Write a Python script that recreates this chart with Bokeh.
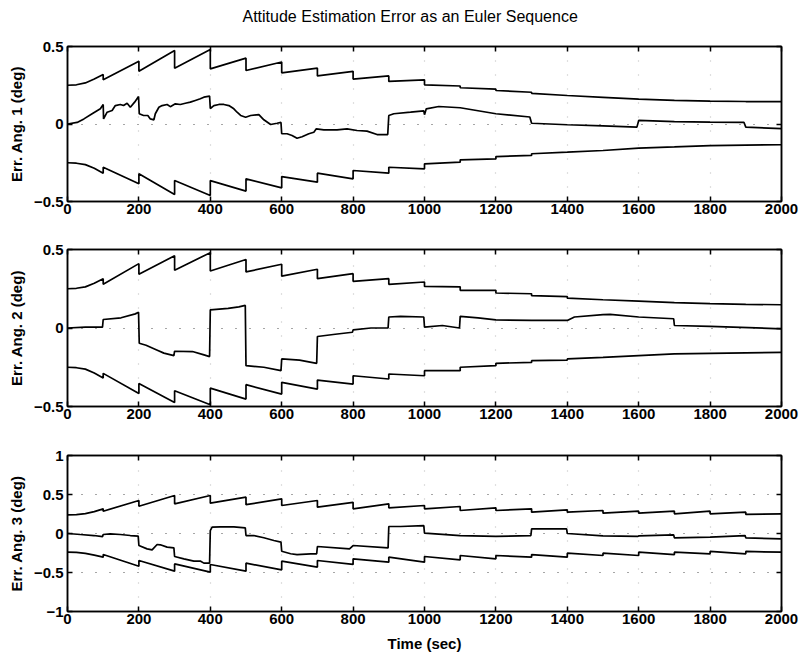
from bokeh.plotting import figure
from bokeh.layouts import column
from bokeh.models import Range1d, LinearAxis, FixedTicker, CustomJSTickFormatter
from bokeh.embed import file_html
from bokeh.resources import INLINE

FONT = "Liberation Sans"
TITLE = "Attitude Estimation Error as an Euler Sequence"
X_LABEL = "Time (sec)"
Y_LABELS = ["Err. Ang. 1 (deg)", "Err. Ang. 2 (deg)", "Err. Ang. 3 (deg)"]
X_TICKS = [0, 200, 400, 600, 800, 1000, 1200, 1400, 1600, 1800, 2000]
Y_TICKS_12 = [-0.5, 0, 0.5]
Y_TICKS_3 = [-1, -0.5, 0, 0.5, 1]

# ---------------- Panel 1 ----------------
p1_bound_t = [0, 25, 50, 75, 100,
              100, 200, 200, 300, 300, 400, 400, 500, 500, 600, 600, 700, 700, 800,
              800, 900, 900, 1000, 1000, 1100, 1100, 1200, 1200, 1300,
              1300, 1400, 1500, 1600, 1700, 1800, 1900, 2000]
p1_upper = [0.25, 0.253, 0.265, 0.29, 0.32,
            0.285, 0.405, 0.34, 0.474, 0.36, 0.48, 0.356, 0.425, 0.345, 0.40, 0.33, 0.36, 0.31, 0.34,
            0.29, 0.31, 0.275, 0.285, 0.253, 0.245, 0.234, 0.225, 0.216, 0.205,
            0.198, 0.184, 0.172, 0.16, 0.152, 0.147, 0.145, 0.145]
p1_lower = [-0.25, -0.253, -0.262, -0.285, -0.317,
            -0.279, -0.386, -0.321, -0.455, -0.365, -0.461, -0.365, -0.433, -0.354, -0.412, -0.339, -0.375, -0.317, -0.354,
            -0.30, -0.317, -0.279, -0.289, -0.257, -0.246, -0.231, -0.225, -0.21, -0.203,
            -0.192, -0.182, -0.171, -0.156, -0.148, -0.139, -0.136, -0.134]
p1_err_t = [0, 27, 46, 69, 92, 100, 101, 111, 125, 134, 148, 157, 167, 176, 188, 199, 201, 213, 225, 232,
            242, 246, 256, 265, 279, 288, 302, 316, 330, 344, 358, 372, 382, 398, 400, 410, 424, 438, 452, 466,
            475, 485, 499, 513, 536, 550, 569, 587, 598, 600, 615, 629, 643, 657, 676, 690, 697, 718, 755, 783,
            811, 839, 867, 897, 900, 914, 961, 998, 1000, 1005, 1040, 1100, 1200, 1295, 1300, 1400, 1500, 1595,
            1600, 1700, 1800, 1895, 1900, 2000]
p1_err = [0, 0.01, 0.033, 0.066, 0.098, 0.126, 0.033, 0.076, 0.087, 0.119, 0.126, 0.119, 0.134, 0.108, 0.141, 0.177, 0.066, 0.055, 0.055, 0.033,
          0.027, 0.066, 0.108, 0.119, 0.126, 0.112, 0.13, 0.126, 0.134, 0.141, 0.152, 0.163, 0.173, 0.18, 0.10, 0.119, 0.126, 0.126, 0.119, 0.098,
          0.076, 0.055, 0.044, 0.055, 0.06, 0.027, -0.003, 0.005, 0.01, -0.063, -0.063, -0.074, -0.092, -0.082, -0.063, -0.053, -0.031, -0.038, -0.038, -0.031,
          -0.042, -0.046, -0.068, -0.068, 0.055, 0.066, 0.076, 0.085, 0.06, 0.098, 0.113, 0.105, 0.066, 0.045, 0.005, -0.005, -0.012, -0.02,
          0.023, 0.015, 0.012, 0.01, -0.02, -0.03]

# ---------------- Panel 2 ----------------
p2_bound_t = [0, 25, 50, 75, 100,
              100, 200, 200, 300, 300, 400, 400, 500, 500, 600, 600, 700, 700, 800,
              800, 900, 900, 1000, 1000, 1100, 1100, 1200, 1200, 1300, 1300, 1400,
              1400, 1500, 1600, 1700, 1800, 1900, 2000]
p2_upper = [0.25, 0.253, 0.262, 0.285, 0.314,
            0.278, 0.41, 0.342, 0.46, 0.368, 0.48, 0.363, 0.436, 0.357, 0.406, 0.33, 0.374, 0.314, 0.346,
            0.297, 0.314, 0.278, 0.293, 0.265, 0.262, 0.24, 0.24, 0.223, 0.218, 0.206, 0.20,
            0.19, 0.18, 0.171, 0.161, 0.155, 0.151, 0.148]
p2_lower = [-0.25, -0.253, -0.262, -0.287, -0.319,
            -0.289, -0.417, -0.353, -0.474, -0.40, -0.489, -0.383, -0.453, -0.361, -0.421, -0.346, -0.389, -0.332, -0.357,
            -0.304, -0.325, -0.293, -0.304, -0.272, -0.272, -0.25, -0.24, -0.225, -0.219, -0.208, -0.204,
            -0.197, -0.187, -0.176, -0.165, -0.161, -0.158, -0.155]
p2_err_t = [0, 50, 98, 100, 150, 190, 199, 201, 220, 250, 270, 298, 300, 350, 380, 398, 400, 450, 480, 498,
            500, 550, 598, 600, 650, 698, 700, 750, 798, 800, 850, 898, 900, 933, 998, 1000, 1050, 1098, 1100, 1150,
            1200, 1300, 1400, 1420, 1500, 1520, 1600, 1698, 1700, 1800, 2000]
p2_err = [0, 0.005, 0.005, 0.054, 0.065, 0.09, 0.10, -0.097, -0.11, -0.14, -0.16, -0.176, -0.148, -0.15, -0.17, -0.182, 0.116, 0.125, 0.135, 0.144,
          -0.24, -0.25, -0.272, -0.197, -0.205, -0.225, -0.054, -0.04, -0.027, -0.012, 0.0, 0.0, 0.07, 0.074, 0.07, 0.005, 0.016, 0.0, 0.074, 0.065,
          0.052, 0.048, 0.048, 0.07, 0.085, 0.087, 0.07, 0.059, 0.016, 0.01, -0.005]

# ---------------- Panel 3 ----------------
p3_bound_t = [0, 25, 50, 75, 100,
              100, 200, 200, 300, 300, 400, 400, 500, 500, 600, 600, 700, 700, 800,
              800, 900, 900, 1000, 1000, 1100, 1100, 1200, 1200, 1300, 1300, 1400,
              1400, 1500, 1500, 1600, 1600, 1700, 1700, 1800, 1800, 1900, 1900, 2000]
p3_upper = [0.24, 0.243, 0.255, 0.28, 0.316,
            0.286, 0.423, 0.35, 0.487, 0.38, 0.487, 0.389, 0.466, 0.37, 0.444, 0.359, 0.423, 0.338, 0.40,
            0.316, 0.38, 0.329, 0.359, 0.316, 0.346, 0.295, 0.329, 0.295, 0.316, 0.274, 0.303,
            0.274, 0.295, 0.26, 0.286, 0.26, 0.286, 0.252, 0.286, 0.252, 0.274, 0.244, 0.252]
p3_lower = [-0.24, -0.243, -0.255, -0.278, -0.303,
            -0.27, -0.42, -0.346, -0.483, -0.39, -0.496, -0.397, -0.483, -0.38, -0.466, -0.355, -0.43, -0.346, -0.397,
            -0.325, -0.368, -0.303, -0.368, -0.295, -0.338, -0.282, -0.325, -0.282, -0.303, -0.27, -0.303,
            -0.252, -0.282, -0.252, -0.282, -0.24, -0.27, -0.24, -0.26, -0.23, -0.26, -0.23, -0.24]
p3_err_t = [0, 36, 74, 98, 100, 120, 148, 176, 198, 200, 223, 237, 251, 260, 279, 298, 300, 326, 354, 373,
            382, 398, 400, 405, 428, 466, 498, 500, 522, 550, 578, 598, 600, 625, 643, 681, 698, 700, 790, 800,
            898, 900, 933, 998, 1000, 1100, 1200, 1298, 1300, 1398, 1400, 1500, 1598, 1600, 1698, 1700, 1800, 1898, 1900, 2000]
p3_err = [0, -0.013, -0.026, -0.04, -0.013, -0.004, -0.013, -0.026, -0.034, -0.154, -0.197, -0.21, -0.141, -0.145, -0.175, -0.184, -0.295, -0.325, -0.355, -0.355,
          -0.38, -0.38, 0.038, 0.081, 0.085, 0.085, 0.073, -0.026, -0.026, -0.055, -0.09, -0.11, -0.227, -0.26, -0.27, -0.26, -0.26, -0.167, -0.197, -0.154,
          -0.184, 0.09, 0.09, 0.10, 0.004, -0.026, -0.038, -0.026, 0.06, 0.06, 0.0, -0.03, -0.038, -0.03, -0.017, -0.056, -0.047, -0.026, -0.056, -0.068]


def fmt(v):
    if v == 0:
        return "0"
    s = ("%g" % abs(v))
    return ("\u2212" + s) if v < 0 else s


def make_panel(height, top, bottom, yr, yticks, ylabel, series, title=None, xlabel=None):
    p = figure(width=801, height=height, output_backend="svg", toolbar_location=None,
               x_range=Range1d(0, 2000), y_range=Range1d(*yr),
               min_border_left=67, min_border_right=20, min_border_top=top, min_border_bottom=bottom,
               background_fill_color="white", border_fill_color="white")
    p.outline_line_color = "black"
    p.outline_line_width = 1.5

    for ax in (p.xaxis[0], p.yaxis[0]):
        ax.major_tick_in = 5
        ax.major_tick_out = 0
        ax.minor_tick_line_color = None
        ax.axis_line_color = "black"
        ax.axis_line_width = 1.5
        ax.major_tick_line_width = 1.5
        ax.major_label_text_font = FONT
        ax.major_label_text_font_size = "15px"
        ax.major_label_text_font_style = "bold"
        ax.major_label_text_color = "black"
        ax.axis_label_text_font = FONT
        ax.axis_label_text_font_size = "15px"
        ax.axis_label_text_font_style = "bold"
        ax.axis_label_text_color = "black"
    p.xaxis[0].ticker = FixedTicker(ticks=X_TICKS)
    p.yaxis[0].ticker = FixedTicker(ticks=yticks)
    p.yaxis[0].major_label_overrides = {t: fmt(t) for t in yticks}
    p.xaxis[0].major_label_standoff = 2
    p.yaxis[0].major_label_standoff = 4
    p.yaxis[0].axis_label = ylabel
    p.yaxis[0].axis_label_standoff = 6
    if xlabel:
        p.xaxis[0].axis_label = xlabel
        p.xaxis[0].axis_label_standoff = 8

    blank = CustomJSTickFormatter(code="return ''")
    top_ax = LinearAxis(ticker=FixedTicker(ticks=X_TICKS), formatter=blank,
                        major_tick_in=5, major_tick_out=0, minor_tick_line_color=None,
                        major_label_text_font_size="1px", major_label_standoff=0,
                        axis_line_width=1.5, major_tick_line_width=1.5)
    right_ax = LinearAxis(ticker=FixedTicker(ticks=yticks), formatter=blank,
                          major_tick_in=5, major_tick_out=0, minor_tick_line_color=None,
                          major_label_text_font_size="1px", major_label_standoff=0,
                          axis_line_width=1.5, major_tick_line_width=1.5)
    p.add_layout(top_ax, "above")
    p.add_layout(right_ax, "right")

    for g in (p.xgrid[0], p.ygrid[0]):
        g.ticker = FixedTicker(ticks=X_TICKS if g is p.xgrid[0] else yticks)
        g.grid_line_color = "black"
        g.grid_line_dash = "1 13"
        g.grid_line_width = 1.2
    p.xgrid[0].grid_line_alpha = 0.25
    p.ygrid[0].grid_line_alpha = 0.7

    for (t, v) in series:
        p.line(t, v, line_color="black", line_width=1.7)

    if title:
        p.title.text = title
        p.title.align = "left"
        p.title.offset = 175
        p.title.text_font = FONT
        p.title.text_font_size = "16px"
        p.title.text_font_style = "normal"
        p.title.text_color = "black"
        p.title.standoff = 0
        p.title.padding = (0, 0, 0, 22)
    return p


p1 = make_panel(222, 46, 21, (-0.5, 0.5), Y_TICKS_12, Y_LABELS[0],
                [(p1_bound_t, p1_upper), (p1_bound_t, p1_lower), (p1_err_t, p1_err)], title=TITLE)
p2 = make_panel(208, 27, 24, (-0.5, 0.5), Y_TICKS_12, Y_LABELS[1],
                [(p2_bound_t, p2_upper), (p2_bound_t, p2_lower), (p2_err_t, p2_err)])
p3 = make_panel(228, 25, 47, (-1, 1), Y_TICKS_3, Y_LABELS[2],
                [(p3_bound_t, p3_upper), (p3_bound_t, p3_lower), (p3_err_t, p3_err)], xlabel=X_LABEL)

layout = column(p1, p2, p3, spacing=0)
open("out.html", "w").write(file_html(layout, INLINE))
